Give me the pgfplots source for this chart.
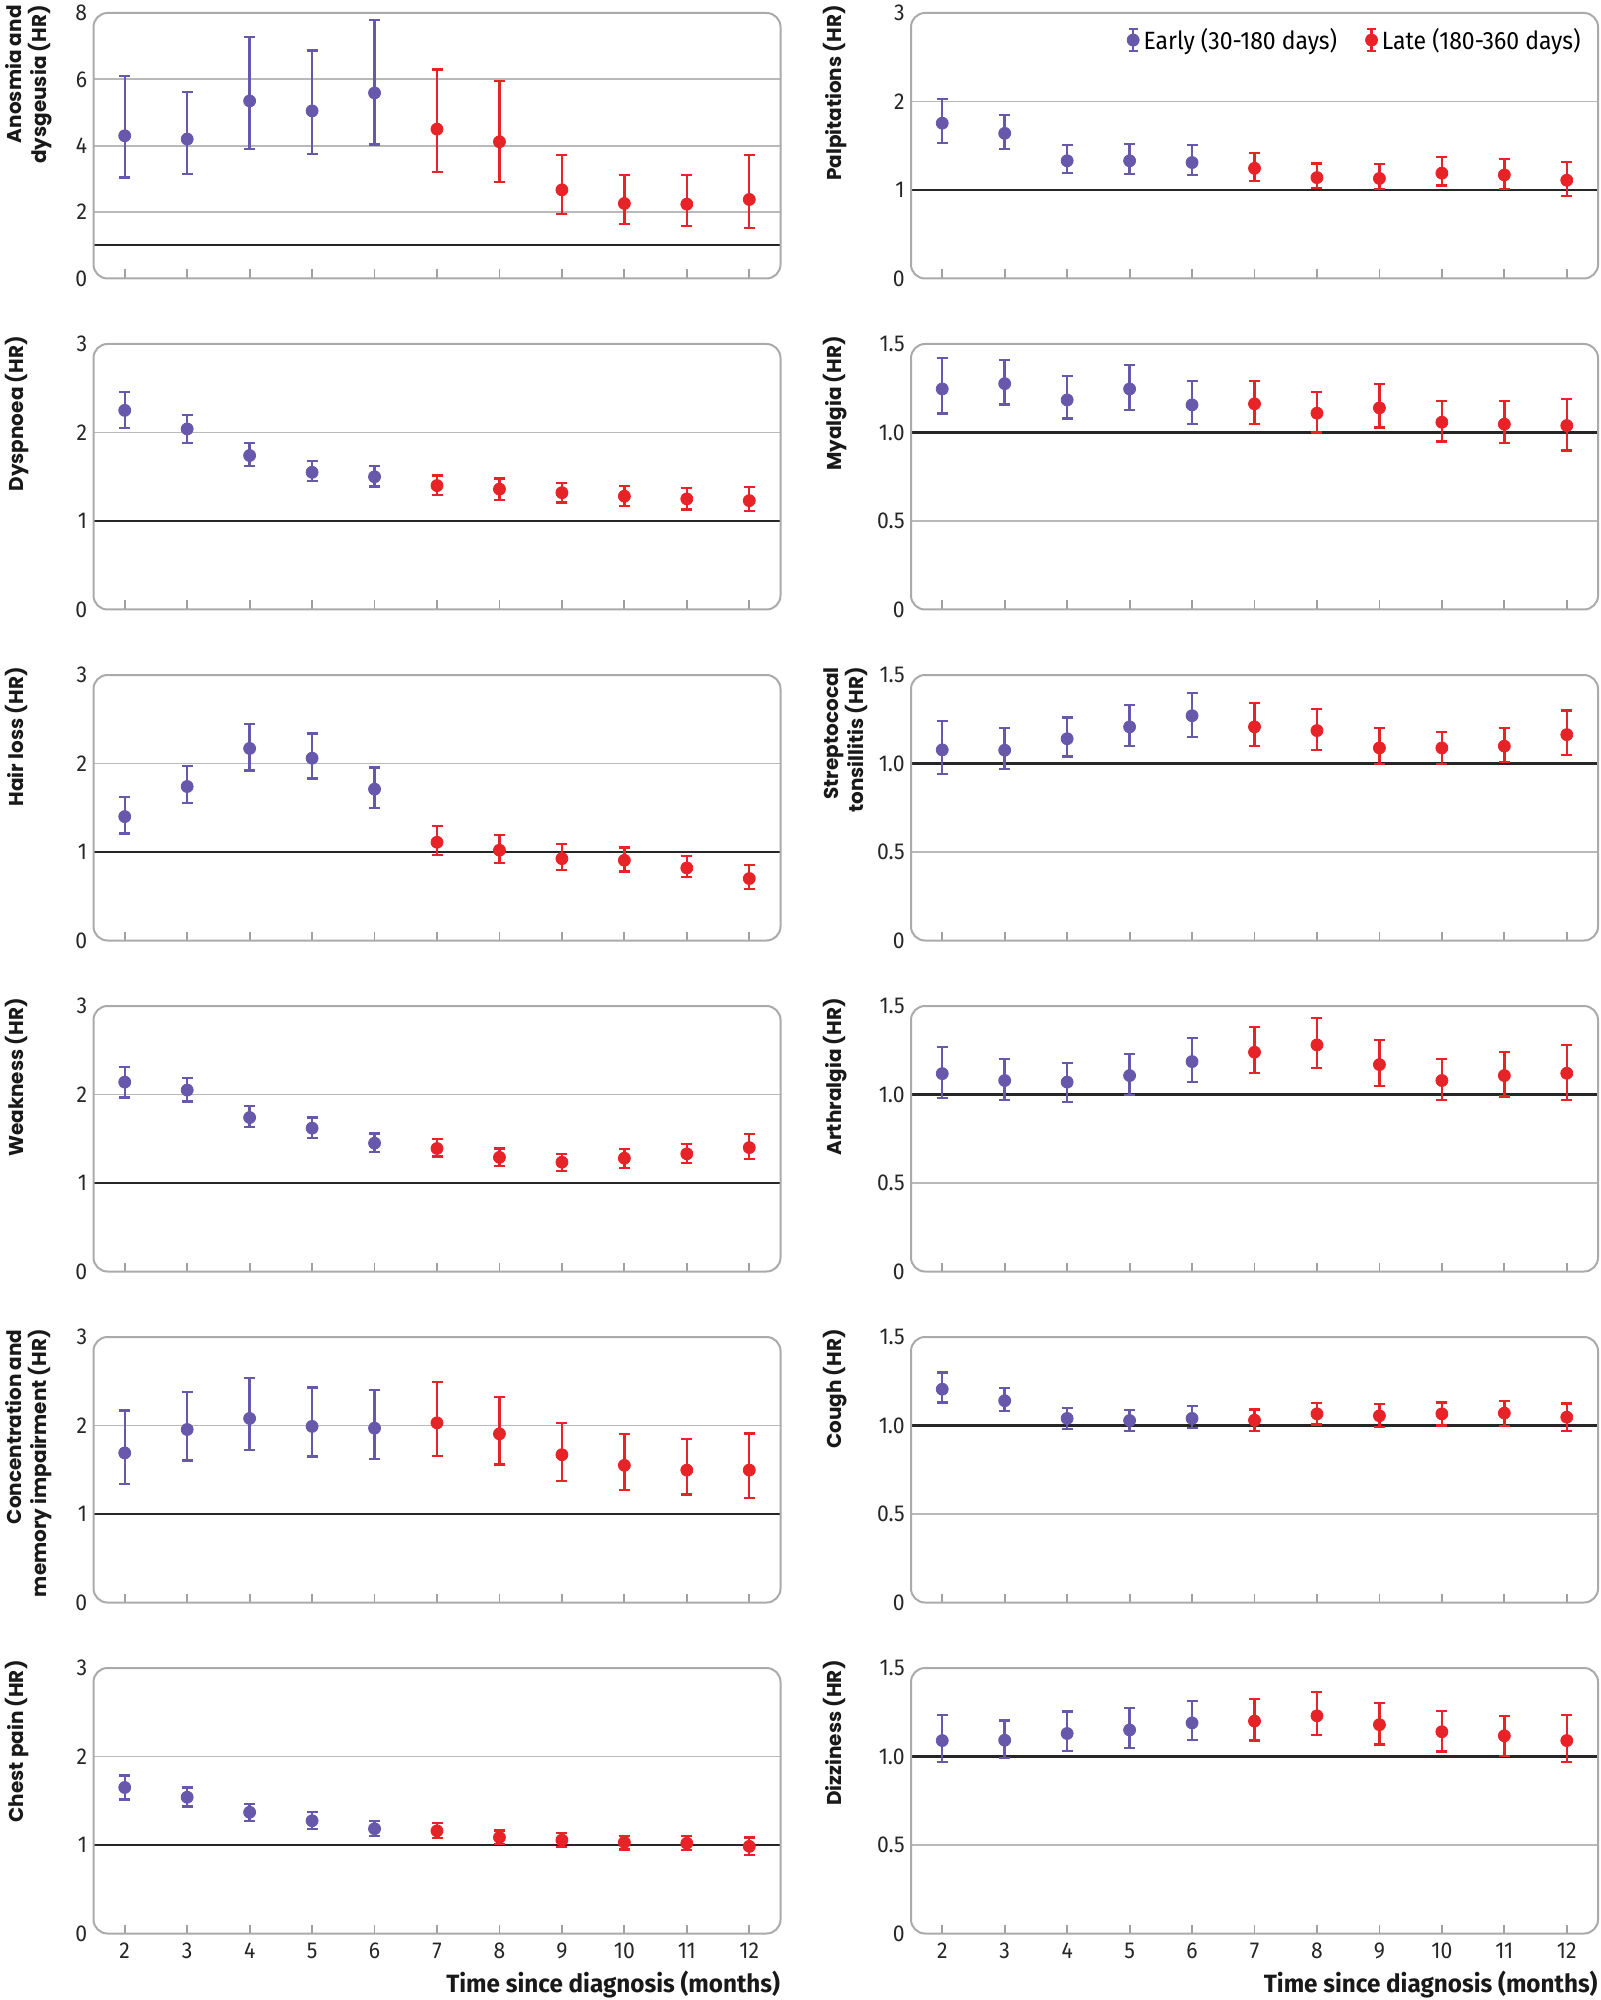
\documentclass[border=0pt]{standalone}
\usepackage{pgfplots}
\pgfplotsset{compat=1.18}
\usepackage{pgfplotstable}
\usepackage{fontspec}
\setmainfont{Fira Sans}
\newfontfamily\tickfont[FakeStretch=0.92]{Fira Sans}
\newfontfamily\labfont{Poppins}
\newfontfamily\xlabfont[FakeStretch=0.97]{Fira Sans}

\definecolor{purp}{RGB}{103,88,172}
\definecolor{lred}{RGB}{232,35,40}
\definecolor{gridgray}{RGB}{185,185,185}
\definecolor{boxgray}{RGB}{170,170,170}
\definecolor{tickgray}{RGB}{160,160,160}

\pgfplotstableread{
x y lo hi
2 4.30 3.04 6.11
3 4.20 3.15 5.61
4 5.35 3.91 7.28
5 5.05 3.74 6.87
6 5.59 4.04 7.78
7 4.50 3.21 6.30
8 4.12 2.90 5.94
9 2.67 1.94 3.73
10 2.26 1.64 3.12
11 2.24 1.59 3.13
12 2.38 1.52 3.73
}\tanosmia
\pgfplotstableread{
x y lo hi
2 1.755 1.53 2.03
3 1.64 1.46 1.85
4 1.33 1.19 1.51
5 1.33 1.18 1.52
6 1.31 1.17 1.51
7 1.245 1.10 1.42
8 1.14 1.02 1.30
9 1.13 1.015 1.29
10 1.19 1.05 1.37
11 1.17 1.015 1.35
12 1.11 0.93 1.32
}\tpalp
\pgfplotstableread{
x y lo hi
2 2.25 2.05 2.46
3 2.04 1.88 2.20
4 1.74 1.62 1.88
5 1.55 1.45 1.68
6 1.50 1.39 1.62
7 1.40 1.29 1.515
8 1.36 1.24 1.48
9 1.32 1.21 1.43
10 1.28 1.165 1.395
11 1.25 1.13 1.37
12 1.23 1.11 1.38
}\tdysp
\pgfplotstableread{
x y lo hi
2 1.246 1.107 1.42
3 1.276 1.158 1.41
4 1.184 1.079 1.32
5 1.246 1.128 1.38
6 1.156 1.05 1.29
7 1.162 1.05 1.29
8 1.109 1.00 1.23
9 1.139 1.028 1.274
10 1.058 0.949 1.18
11 1.047 0.94 1.18
12 1.039 0.898 1.188
}\tmyal
\pgfplotstableread{
x y lo hi
2 1.40 1.21 1.62
3 1.74 1.55 1.97
4 2.17 1.92 2.45
5 2.06 1.83 2.34
6 1.71 1.50 1.955
7 1.11 0.97 1.29
8 1.02 0.88 1.195
9 0.925 0.80 1.09
10 0.906 0.78 1.05
11 0.82 0.714 0.955
12 0.70 0.586 0.85
}\thair
\pgfplotstableread{
x y lo hi
2 1.077 0.94 1.24
3 1.075 0.97 1.20
4 1.14 1.04 1.26
5 1.207 1.098 1.33
6 1.27 1.15 1.40
7 1.207 1.10 1.34
8 1.186 1.077 1.306
9 1.088 0.996 1.20
10 1.088 0.996 1.18
11 1.098 1.01 1.20
12 1.163 1.05 1.30
}\tstrep
\pgfplotstableread{
x y lo hi
2 2.14 1.966 2.315
3 2.05 1.92 2.19
4 1.74 1.63 1.87
5 1.62 1.505 1.74
6 1.45 1.35 1.56
7 1.39 1.30 1.50
8 1.29 1.19 1.39
9 1.235 1.14 1.33
10 1.28 1.17 1.385
11 1.33 1.23 1.445
12 1.40 1.27 1.55
}\tweak
\pgfplotstableread{
x y lo hi
2 1.118 0.979 1.267
3 1.079 0.97 1.20
4 1.07 0.959 1.18
5 1.107 0.996 1.23
6 1.186 1.07 1.32
7 1.239 1.12 1.38
8 1.28 1.148 1.43
9 1.169 1.05 1.31
10 1.079 0.968 1.20
11 1.107 0.989 1.24
12 1.12 0.97 1.28
}\tarth
\pgfplotstableread{
x y lo hi
2 1.69 1.335 2.17
3 1.955 1.605 2.376
4 2.08 1.72 2.54
5 1.99 1.65 2.43
6 1.97 1.62 2.40
7 2.03 1.66 2.49
8 1.906 1.56 2.32
9 1.67 1.376 2.03
10 1.55 1.27 1.90
11 1.496 1.22 1.85
12 1.496 1.18 1.91
}\tconc
\pgfplotstableread{
x y lo hi
2 1.205 1.13 1.30
3 1.14 1.08 1.21
4 1.04 0.98 1.10
5 1.028 0.968 1.086
6 1.04 0.987 1.11
7 1.03 0.97 1.09
8 1.066 1.006 1.126
9 1.055 0.99 1.12
10 1.066 1.00 1.13
11 1.07 0.998 1.14
12 1.047 0.97 1.124
}\tcough
\pgfplotstableread{
x y lo hi
2 1.65 1.515 1.786
3 1.54 1.436 1.65
4 1.37 1.267 1.466
5 1.274 1.177 1.372
6 1.184 1.10 1.274
7 1.16 1.08 1.25
8 1.086 1.01 1.165
9 1.056 0.977 1.14
10 1.03 0.95 1.105
11 1.02 0.94 1.10
12 0.985 0.887 1.086
}\tchest
\pgfplotstableread{
x y lo hi
2 1.09 0.968 1.233
3 1.092 0.99 1.203
4 1.13 1.03 1.254
5 1.15 1.049 1.274
6 1.19 1.094 1.312
7 1.20 1.09 1.323
8 1.23 1.12 1.365
9 1.18 1.068 1.304
10 1.14 1.028 1.256
11 1.117 1.004 1.23
12 1.09 0.968 1.233
}\tdizz

\pgfplotsset{
  panel/.style={
    scale only axis, width=343.5pt, height=132.75pt, anchor=north west,
    xmin=1.5, xmax=12.5, ymin=0, clip=false,
    axis line style={draw=none},
    xtick={2,3,4,5,6,7,8,9,10,11,12}, xticklabels={}, xtick pos=left,
    tick align=inside, major tick length=4.5pt,
    xtick style={draw=tickgray, line width=0.9pt},
    ytick style={draw=none},
    ticklabel style={font=\tickfont\fontsize{11.5}{12}\selectfont, text=black!85},
    yticklabel style={inner sep=0pt, anchor=east, xshift=-3pt},
    xticklabel style={inner sep=0pt, anchor=north, yshift=-4.5pt},
    extra y tick labels={},
    extra y tick style={ymajorgrids=true, major tick length=0pt},
    major grid style={draw=gridgray, line width=0.9pt},
    after end axis/.code={\draw[boxgray, line width=1pt, rounded corners=7pt] (rel axis cs:0,0) rectangle (rel axis cs:1,1);},
  },
  intp/.style={ymax=3, ytick={0,1,2,3}, yticklabels={0,1,2,3}, extra y ticks={2}},
  halfp/.style={ymax=1.5, ytick={0,0.5,1,1.5}, yticklabels={0,0.5,1.0,1.5}, extra y ticks={0.5}},
  anop/.style={ymax=8, ytick={0,2,4,6,8}, yticklabels={0,2,4,6,8}, extra y ticks={2,4,6}},
  bottomrow/.style={xticklabels={2,3,4,5,6,7,8,9,10,11,12}},
  early/.style={only marks, mark=*, color=purp, mark size=3pt,
    mark options={solid, fill=purp, draw=none},
    /pgfplots/error bars/y dir=both, /pgfplots/error bars/y explicit,
    /pgfplots/error bars/error bar style={line width=1.2pt, color=purp, solid},
    /pgfplots/error bars/error mark options={rotate=90, mark size=2.75pt, line width=1.1pt, color=purp}},
  late/.style={only marks, mark=*, color=lred, mark size=3pt,
    mark options={solid, fill=lred, draw=none},
    /pgfplots/error bars/y dir=both, /pgfplots/error bars/y explicit,
    /pgfplots/error bars/error bar style={line width=1.2pt, color=lred, solid},
    /pgfplots/error bars/error mark options={rotate=90, mark size=2.75pt, line width=1.1pt, color=lred}},
}

\newcommand{\twoseries}[1]{%
  \addplot[black!85, line width=1.1pt, mark=none, forget plot] coordinates {(1.5,1) (12.5,1)};
  \addplot[early, forget plot, restrict x to domain=2:6] table[x=x, y=y,
     y error plus expr=\thisrow{hi}-\thisrow{y}, y error minus expr=\thisrow{y}-\thisrow{lo}] {#1};
  \addplot[late, forget plot, restrict x to domain=7:12] table[x=x, y=y,
     y error plus expr=\thisrow{hi}-\thisrow{y}, y error minus expr=\thisrow{y}-\thisrow{lo}] {#1};
}

\tikzset{
  ylab/.style={rotate=90, anchor=north east, align=right, inner sep=0pt,
    font=\labfont\bfseries\fontsize{10}{12.5}\selectfont, text=black!90},
  xlab/.style={anchor=base east, inner sep=0pt,
    font=\xlabfont\bfseries\fontsize{12.5}{14}\selectfont, text=black!90},
}

\begin{document}
\begin{tikzpicture}
\useasboundingbox (0,0) rectangle (800pt,-1000pt);

% Row 1
\begin{axis}[panel, anop, name=A, at={(46.75pt,-6.5pt)}]
\twoseries{\tanosmia}
\end{axis}
\node[ylab] at ([xshift=-44.25pt, yshift=4pt]A.north west) {Anosmia and\\dysgeusia (HR)};

\begin{axis}[panel, intp, name=B, at={(455.5pt,-6.5pt)},
  legend style={draw=none, fill=none, inner sep=0pt, at={(rel axis cs:0.981,0.898)}, anchor=east,
    font=\tickfont\fontsize{12.5}{14}\selectfont, legend columns=2,
    /tikz/every even column/.append style={column sep=12pt}},
  legend cell align=left]
\twoseries{\tpalp}
\addlegendimage{legend image code/.code={
  \draw[purp, line width=1.2pt] (3pt,-5.5pt) -- (3pt,5.5pt);
  \draw[purp, line width=1.1pt] (0.75pt,-5.5pt) -- (5.25pt,-5.5pt) (0.75pt,5.5pt) -- (5.25pt,5.5pt);
  \fill[purp] (3pt,0pt) circle (3pt);}}
\addlegendentry{Early (30-180 days)}
\addlegendimage{legend image code/.code={
  \draw[lred, line width=1.2pt] (3pt,-5.5pt) -- (3pt,5.5pt);
  \draw[lred, line width=1.1pt] (0.75pt,-5.5pt) -- (5.25pt,-5.5pt) (0.75pt,5.5pt) -- (5.25pt,5.5pt);
  \fill[lred] (3pt,0pt) circle (3pt);}}
\addlegendentry{Late (180-360 days)}
\end{axis}
\node[ylab] at ([xshift=-44pt, yshift=4pt]B.north west) {Palpitations (HR)};

% Row 2
\begin{axis}[panel, intp, name=C, at={(46.75pt,-172pt)}]
\twoseries{\tdysp}
\end{axis}
\node[ylab] at ([xshift=-44.25pt, yshift=4pt]C.north west) {Dyspnoea (HR)};

\begin{axis}[panel, halfp, name=D, at={(455.5pt,-172pt)}]
\twoseries{\tmyal}
\end{axis}
\node[ylab] at ([xshift=-44pt, yshift=4pt]D.north west) {Myalgia (HR)};

% Row 3
\begin{axis}[panel, intp, name=E, at={(46.75pt,-337.5pt)}]
\twoseries{\thair}
\end{axis}
\node[ylab] at ([xshift=-44.25pt, yshift=4pt]E.north west) {Hair loss (HR)};

\begin{axis}[panel, halfp, name=F, at={(455.5pt,-337.5pt)}]
\twoseries{\tstrep}
\end{axis}
\node[ylab] at ([xshift=-44pt, yshift=4pt]F.north west) {Streptococal\\tonsillitis (HR)};

% Row 4
\begin{axis}[panel, intp, name=G, at={(46.75pt,-503pt)}]
\twoseries{\tweak}
\end{axis}
\node[ylab] at ([xshift=-44.25pt, yshift=4pt]G.north west) {Weakness (HR)};

\begin{axis}[panel, halfp, name=H, at={(455.5pt,-503pt)}]
\twoseries{\tarth}
\end{axis}
\node[ylab] at ([xshift=-44pt, yshift=4pt]H.north west) {Arthralgia (HR)};

% Row 5
\begin{axis}[panel, intp, name=I, at={(46.75pt,-668.5pt)}]
\twoseries{\tconc}
\end{axis}
\node[ylab] at ([xshift=-44.25pt, yshift=4pt]I.north west) {Concentration and\\memory impairment (HR)};

\begin{axis}[panel, halfp, name=J, at={(455.5pt,-668.5pt)}]
\twoseries{\tcough}
\end{axis}
\node[ylab] at ([xshift=-44pt, yshift=4pt]J.north west) {Cough (HR)};

% Row 6
\begin{axis}[panel, intp, bottomrow, name=K, at={(46.75pt,-834pt)}]
\twoseries{\tchest}
\end{axis}
\node[ylab] at ([xshift=-44.25pt, yshift=4pt]K.north west) {Chest pain (HR)};
\node[xlab] at ([yshift=-29.5pt]K.south east) {Time since diagnosis (months)};

\begin{axis}[panel, halfp, bottomrow, name=L, at={(455.5pt,-834pt)}]
\twoseries{\tdizz}
\end{axis}
\node[ylab] at ([xshift=-44pt, yshift=4pt]L.north west) {Dizziness (HR)};
\node[xlab] at ([yshift=-29.5pt]L.south east) {Time since diagnosis (months)};

\end{tikzpicture}
\end{document}
